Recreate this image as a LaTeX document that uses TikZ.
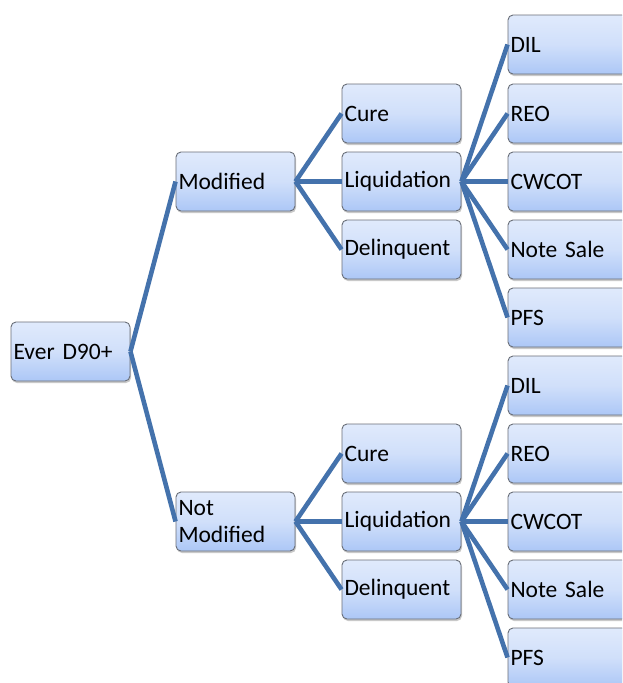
\documentclass[tikz,border=0pt]{standalone}
\usepackage{fontspec}
\setmainfont{Carlito}
\usetikzlibrary{shadows}
\definecolor{boxtop}{RGB}{224,234,252}
\definecolor{boxbot}{RGB}{172,199,246}
\definecolor{boxline}{RGB}{105,110,120}
\definecolor{connblue}{RGB}{68,114,172}
\tikzset{
  box/.style={rectangle, rounded corners=5pt, draw=boxline, line width=0.9pt,
    top color=boxtop, bottom color=boxbot, middle color=boxtop!70!boxbot,
    minimum width=119pt, minimum height=59pt, text width=114pt,
    inner xsep=2.5pt, inner ysep=0pt, align=left,
    font=\fontsize{23.5}{27}\selectfont,
    drop shadow={shadow xshift=1pt, shadow yshift=-2pt, opacity=0.35, fill=black!60}},
  conn/.style={draw=connblue, line width=4.6pt}
}
\begin{document}
\begin{tikzpicture}[x=1pt,y=-1pt]
\useasboundingbox (0,0) rectangle (622,683);
\clip (0,0) rectangle (622,683);
\fill[white] (0,0) rectangle (622,683);
% level 1
\node[box] (ever) at (70.5,351.5) {Ever D90+};
% level 2
\node[box] (mod) at (235.5,181.5) {Modified};
\node[box] (nmod) at (235.5,521.5) {Not\\Modified};
% level 3 top
\node[box] (cureA) at (401.5,113.5) {Cure};
\node[box] (liqA) at (401.5,181.5) {Liquidation};
\node[box] (delA) at (401.5,249.5) {Delinquent};
% level 3 bottom
\node[box] (cureB) at (401.5,453.5) {Cure};
\node[box] (liqB) at (401.5,521.5) {Liquidation};
\node[box] (delB) at (401.5,589.5) {Delinquent};
% level 4 top
\node[box] (dilA) at (567.5,44.5) {DIL};
\node[box] (reoA) at (567.5,113.5) {REO};
\node[box] (cwA) at (567.5,181.5) {CWCOT};
\node[box] (nsA) at (567.5,249.5) {Note Sale};
\node[box] (pfsA) at (567.5,317.5) {PFS};
% level 4 bottom
\node[box] (dilB) at (567.5,385.5) {DIL};
\node[box] (reoB) at (567.5,453.5) {REO};
\node[box] (cwB) at (567.5,521.5) {CWCOT};
\node[box] (nsB) at (567.5,589.5) {Note Sale};
\node[box] (pfsB) at (567.5,657.5) {PFS};
% connectors
\draw[conn] (ever.east) -- (mod.west);
\draw[conn] (ever.east) -- (nmod.west);
\foreach \c in {cureA,liqA,delA} \draw[conn] (mod.east) -- (\c.west);
\foreach \c in {cureB,liqB,delB} \draw[conn] (nmod.east) -- (\c.west);
\foreach \c in {dilA,reoA,cwA,nsA,pfsA} \draw[conn] (liqA.east) -- (\c.west);
\foreach \c in {dilB,reoB,cwB,nsB,pfsB} \draw[conn] (liqB.east) -- (\c.west);
\end{tikzpicture}
\end{document}
